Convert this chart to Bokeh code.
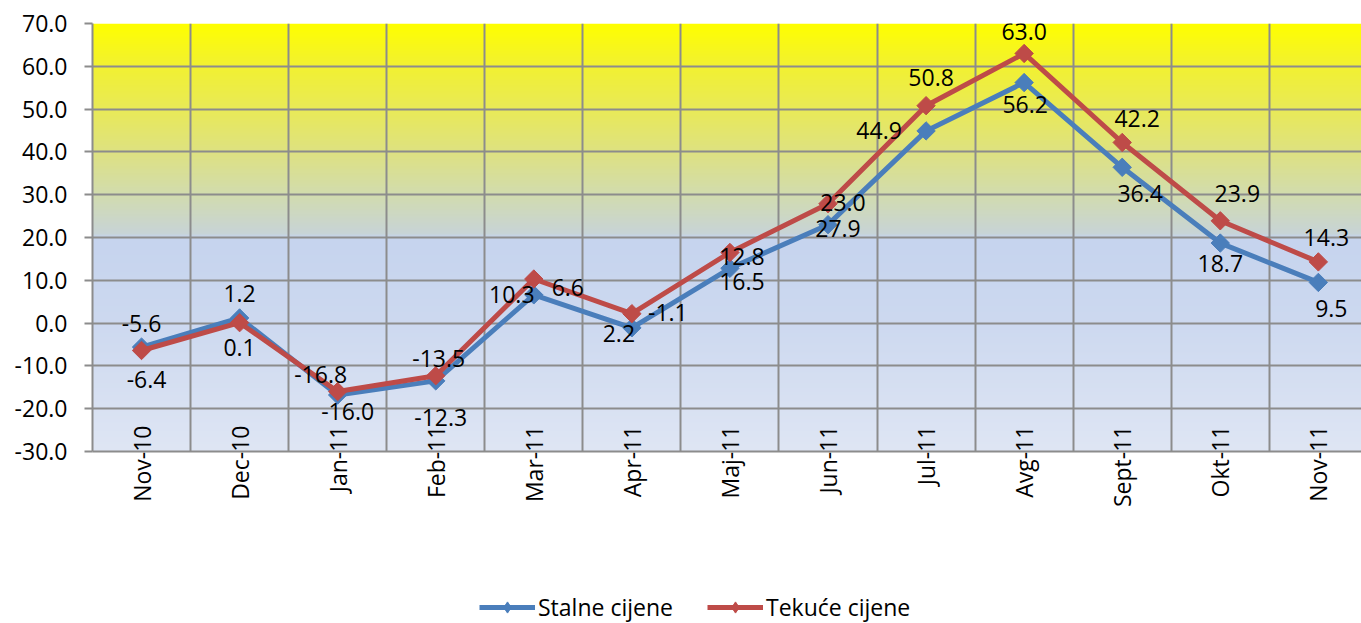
import numpy as np
from bokeh.plotting import figure
from bokeh.layouts import column
from bokeh.models import (Range1d, FixedTicker, PrintfTickFormatter, Legend, LegendItem,
                          ColumnDataSource, CustomJSTickFormatter)
from bokeh.core.properties import value
from bokeh.embed import file_html
from bokeh.resources import INLINE

# ---- data ----
categories = ["Nov-10", "Dec-10", "Jan-11", "Feb-11", "Mar-11", "Apr-11", "Maj-11",
              "Jun-11", "Jul-11", "Avg-11", "Sept-11", "Okt-11", "Nov-11"]
stalne = [-5.6, 1.2, -16.8, -13.5, 6.6, -1.1, 12.8, 23.0, 44.9, 56.2, 36.4, 18.7, 9.5]
tekuce = [-6.4, 0.1, -16.0, -12.3, 10.3, 2.2, 16.5, 27.9, 50.8, 63.0, 42.2, 23.9, 14.3]
y_ticks = [-30, -20, -10, 0, 10, 20, 30, 40, 50, 60, 70]
series_names = ["Stalne cijene", "Tekuće cijene"]

# ---- label placement (screen px, dy positive = up) ----
stalne_dx = [0, 0, -17, 3, 34, 36, 12, 15, -47, 1, 18, 0, 13]
stalne_dy = [24, 24, 21, 22, 7, 15, 12, 22, 0, -22, -26, -20, -26]
tekuce_dx = [5, 0, 10, 5, -22, -13, 12, 10, 5, 0, 15, 17, 8]
tekuce_dy = [-29, -25, -20, -42, -15, -20, -29, -25, 28, 22, 24, 27, 24]

FONT = "Open Sans"
FS = "23px"
BLUE = "#4A7EBB"
RED = "#BE4B48"
GRID = "#8C8C8C"

xs = [i + 0.5 for i in range(len(categories))]

p = figure(width=1361, height=546, x_range=Range1d(0, 12.94), y_range=Range1d(-30, 70),
           output_backend="svg", toolbar_location=None,
           min_border_left=92, min_border_right=0, min_border_top=23, min_border_bottom=95)
p.outline_line_color = None
p.background_fill_color = "white"

# gradient background
anch_v = [-30, 0, 20, 21, 30, 40, 50, 60, 70]
anch_c = [(223, 230, 244), (205, 217, 240), (198, 212, 238), (200, 212, 215),
          (210, 220, 175), (222, 226, 130), (233, 234, 88), (242, 241, 50), (255, 255, 0)]
N = 500
vals = np.linspace(-30, 70, N)
img = np.empty((N, 1), dtype=np.uint32)
view = img.view(dtype=np.uint8).reshape((N, 1, 4))
for ch in range(3):
    view[:, 0, ch] = np.interp(vals, anch_v, [c[ch] for c in anch_c]).astype(np.uint8)
view[:, 0, 3] = 255
p.image_rgba(image=[img], x=0, y=-30, dw=13, dh=100, level="image")

# grids
p.xgrid.ticker = FixedTicker(ticks=list(range(14)))
p.ygrid.ticker = FixedTicker(ticks=y_ticks)
for g in (p.xgrid, p.ygrid):
    g.grid_line_color = GRID
    g.grid_line_width = 2

# axes
p.yaxis.ticker = FixedTicker(ticks=y_ticks)
p.yaxis.formatter = PrintfTickFormatter(format="%.1f")
p.yaxis.major_label_text_font = FONT
p.yaxis.major_label_text_font_size = FS
p.yaxis.major_label_text_color = "black"
p.yaxis.axis_line_color = GRID
p.yaxis.axis_line_width = 2
p.yaxis.major_tick_line_color = GRID
p.yaxis.major_tick_line_width = 2
p.yaxis.major_tick_out = 8
p.yaxis.major_tick_in = 0
p.yaxis.minor_tick_line_color = None
p.yaxis.major_label_standoff = 17

p.xaxis.ticker = FixedTicker(ticks=xs)
p.xaxis.formatter = CustomJSTickFormatter(args=dict(labels=categories),
                                          code="return labels[Math.floor(tick)];")
p.xaxis.major_label_orientation = np.pi / 2
p.xaxis.major_label_text_font = FONT
p.xaxis.major_label_text_font_size = FS
p.xaxis.major_label_text_color = "black"
p.xaxis.axis_line_color = GRID
p.xaxis.axis_line_width = 2
p.xaxis.major_tick_line_color = None
p.xaxis.minor_tick_line_color = None
p.xaxis.major_label_standoff = -32

# series
l1 = p.line(xs, stalne, line_color=BLUE, line_width=5)
s1 = p.scatter(xs, stalne, marker="square", angle=np.pi / 4, size=13,
               fill_color=BLUE, line_color=BLUE)
l2 = p.line(xs, tekuce, line_color=RED, line_width=5)
s2 = p.scatter(xs, tekuce, marker="square", angle=np.pi / 4, size=13,
               fill_color=RED, line_color=RED)

for ys, dx, dy in ((stalne, stalne_dx, stalne_dy), (tekuce, tekuce_dx, tekuce_dy)):
    src = ColumnDataSource(dict(x=xs, y=ys, t=[f"{v:.1f}" for v in ys],
                                dx=dx, dy=[-d for d in dy]))
    p.text(x="x", y="y", text="t", x_offset="dx", y_offset="dy", source=src,
           text_align="center", text_baseline="middle",
           text_font=value(FONT), text_font_size=FS, text_color="black")

# ---- legend strip below the chart (series drawn out of view, only their legend shows) ----
lf = figure(width=1361, height=77, x_range=Range1d(1000, 1001), y_range=Range1d(1000, 1001),
            output_backend="svg", toolbar_location=None,
            min_border_left=0, min_border_right=0, min_border_top=0, min_border_bottom=0)
lf.xaxis.visible = False
lf.yaxis.visible = False
lf.xgrid.visible = False
lf.ygrid.visible = False
lf.outline_line_color = None
items = []
for name, ys, col in zip(series_names, (stalne, tekuce), (BLUE, RED)):
    lr = lf.line(xs, ys, line_color=col, line_width=5)
    sr = lf.scatter(xs, ys, marker="diamond", size=16,
                    fill_color=col, line_color=col)
    items.append(LegendItem(label=name, renderers=[lr, sr]))
legend = Legend(items=items, location=(387, 0), orientation="horizontal",
                glyph_width=56, glyph_height=28, label_standoff=3, spacing=34,
                padding=0, margin=0, border_line_alpha=0, background_fill_alpha=0,
                label_text_font=FONT, label_text_font_size=FS,
                label_text_color="black")
lf.add_layout(legend)

layout = column(p, lf)
open("out.html", "w").write(file_html(layout, INLINE))
